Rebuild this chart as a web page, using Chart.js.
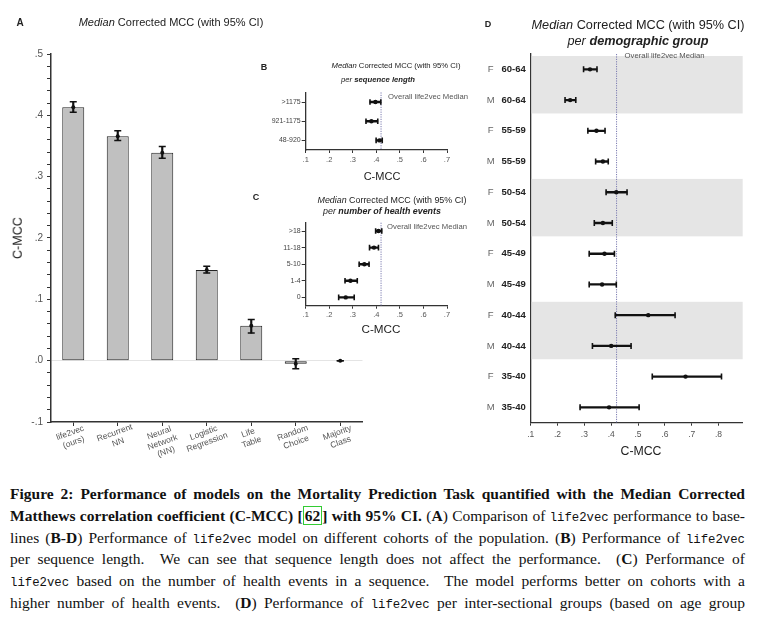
<!DOCTYPE html>
<html><head><meta charset="utf-8">
<script src="https://cdn.jsdelivr.net/npm/chart.js@4.4.0/dist/chart.umd.min.js"></script>
<style>
html,body{margin:0;padding:0;background:#fff;}
body{width:760px;height:644px;position:relative;overflow:hidden;font-family:"Liberation Sans",Arial,sans-serif;}
canvas.c{position:absolute;}
.t{position:absolute;white-space:nowrap;color:#222;transform:translate(-50%,-50%);line-height:1;}
.cap{position:absolute;left:10px;width:735px;font-family:"Liberation Serif","Times New Roman",serif;font-size:15.5px;color:#111;white-space:nowrap;text-align:justify;text-align-last:justify;line-height:21.8px;}
.mono{font-family:"Liberation Mono",monospace;font-size:12.3px;}
.cite{border:1.5px solid #33cc33;padding:0 1px;}
</style></head><body>

<canvas id="cA" class="c" width="380" height="470" style="left:0;top:0;width:380px;height:470px"></canvas>
<canvas id="cB" class="c" width="215" height="98" style="left:255px;top:85px;width:215px;height:98px"></canvas>
<canvas id="cC" class="c" width="215" height="121" style="left:255px;top:215px;width:215px;height:121px"></canvas>
<canvas id="cD" class="c" width="285" height="459" style="left:475px;top:0;width:285px;height:459px"></canvas>

<div class="t" style="left:20px;top:23px;font-size:10px;font-weight:bold">A</div>
<div class="t" style="left:171px;top:22px;font-size:11px"><i>Median</i> Corrected MCC (with 95% CI)</div>
<div class="t" style="left:18px;top:238px;font-size:12.6px;transform:translate(-50%,-50%) rotate(-90deg)">C-MCC</div>

<div class="t" style="left:264px;top:67px;font-size:9px;font-weight:bold">B</div>
<div class="t" style="left:396px;top:66px;font-size:7.7px"><i>Median</i> Corrected MCC (with 95% CI)</div>
<div class="t" style="left:378px;top:80px;font-size:7.7px"><i>per</i> <b><i>sequence length</i></b></div>
<div class="t" style="left:382px;top:176px;font-size:11px">C-MCC</div>

<div class="t" style="left:256px;top:197px;font-size:9px;font-weight:bold">C</div>
<div class="t" style="left:392px;top:200px;font-size:8.9px"><i>Median</i> Corrected MCC (with 95% CI)</div>
<div class="t" style="left:382px;top:211px;font-size:8.9px"><i>per</i> <b><i>number of health events</i></b></div>
<div class="t" style="left:381px;top:329px;font-size:11.7px">C-MCC</div>

<div class="t" style="left:488px;top:24px;font-size:9px;font-weight:bold">D</div>
<div class="t" style="left:638px;top:25px;font-size:12.7px"><i>Median</i> Corrected MCC (with 95% CI)</div>
<div class="t" style="left:638px;top:41px;font-size:12.7px"><i>per</i> <b><i>demographic group</i></b></div>
<div class="t" style="left:641px;top:451px;font-size:12.3px">C-MCC</div>

<div class="cap" style="top:483px"><b>Figure 2: Performance of models on the Mortality Prediction Task quantified with the Median Corrected</b></div>
<div class="cap" style="top:505px"><b>Matthews correlation coefficient (C-MCC) [<span class="cite">62</span>] with 95% CI.</b> (<b>A</b>) Comparison of <span class="mono">life2vec</span> performance to base-</div>
<div class="cap" style="top:527px">lines (<b>B-D</b>) Performance of <span class="mono">life2vec</span> model on different cohorts of the population. (<b>B</b>) Performance of <span class="mono">life2vec</span></div>
<div class="cap" style="top:548px">per sequence length. &nbsp;We can see that sequence length does not affect the performance. &nbsp;(<b>C</b>) Performance of</div>
<div class="cap" style="top:570px"><span class="mono">life2vec</span> based on the number of health events in a sequence. &nbsp;The model performs better on cohorts with a</div>
<div class="cap" style="top:592px">higher number of health events. &nbsp;(<b>D</b>) Performance of <span class="mono">life2vec</span> per inter-sectional groups (based on age group</div>

<script>
// ---------------- DATA ----------------
const modelNames = [["life2vec","(ours)"],["Recurrent","NN"],["Neural","Network","(NN)"],["Logistic","Regression"],["Life","Table"],["Random","Choice"],["Majority","Class"]];
const modelMedian = [0.413, 0.366, 0.339, 0.148, 0.057, -0.005, 0.0];
const modelLow    = [0.405, 0.359, 0.330, 0.143, 0.045, -0.013, 0.0];
const modelHigh   = [0.422, 0.375, 0.349, 0.154, 0.067, 0.003, 0.0];

const seqLenLabels = [">1175","921-1175","48-920"];
const seqLenMedian = [0.396, 0.379, 0.413];
const seqLenLow    = [0.373, 0.356, 0.399];
const seqLenHigh   = [0.419, 0.406, 0.425];

const eventLabels = [">18","11-18","5-10","1-4","0"];
const eventMedian = [0.409, 0.390, 0.349, 0.290, 0.270];
const eventLow    = [0.397, 0.371, 0.327, 0.267, 0.240];
const eventHigh   = [0.423, 0.409, 0.369, 0.319, 0.306];

const demoSex = ["F","M","F","M","F","M","F","M","F","M","F","M"];
const demoAge = ["60-64","60-64","55-59","55-59","50-54","50-54","45-49","45-49","40-44","40-44","35-40","35-40"];
const demoMedian = [0.321, 0.247, 0.345, 0.369, 0.419, 0.369, 0.375, 0.366, 0.538, 0.400, 0.677, 0.392];
const demoLow    = [0.297, 0.228, 0.313, 0.342, 0.381, 0.337, 0.318, 0.318, 0.415, 0.330, 0.553, 0.284];
const demoHigh   = [0.347, 0.268, 0.377, 0.389, 0.459, 0.404, 0.412, 0.419, 0.638, 0.474, 0.811, 0.504];
const demoShaded = [0, 4, 8]; // first row index of each shaded age pair

const overallMedian = 0.42;
const overallLabel = "Overall life2vec Median";

const ticksA = [-0.1,-0.08,-0.06,-0.04,-0.02,0,0.02,0.04,0.06,0.08,0.1,0.12,0.14,0.16,0.18,0.2,0.22,0.24,0.26,0.28,0.3,0.32,0.34,0.36,0.38,0.4,0.42,0.44,0.46,0.48,0.5];
const ticksBC = [0.1,0.2,0.3,0.4,0.5,0.6,0.7];
const ticksD = [0.1,0.2,0.3,0.4,0.5,0.6,0.7,0.8];

// ---------------- HELPERS ----------------
Chart.defaults.font.family = '"Liberation Sans", Arial, sans-serif';
Chart.defaults.animation = false;
const INK = '#111';
const AXIS = '#333';
function fmt(v){
  const s = (Math.round(v*10)/10).toFixed(1);
  return s.replace(/^0/,'').replace(/^-0/,'-');
}
function isMajor(v){ return Math.abs(v*10 - Math.round(v*10)) < 1e-6; }

// ---------------- PANEL A ----------------
const aLabelsPlugin = {
  id:'aLabels',
  afterDraw(chart){
    const ctx = chart.ctx, xs = chart.scales.x;
    ctx.save();
    ctx.font = '8.5px "Liberation Sans", Arial, sans-serif';
    ctx.fillStyle = '#555';
    ctx.textAlign = 'center';
    ctx.textBaseline = 'middle';
    modelNames.forEach((lines,i)=>{
      const x = xs.getPixelForTick(i);
      ctx.save();
      ctx.translate(x-3, 433);
      ctx.rotate(-20*Math.PI/180);
      lines.forEach((ln,j)=> ctx.fillText(ln, 0, j*10));
      ctx.restore();
    });
    ctx.restore();
  }
};

new Chart(document.getElementById('cA'), {
  type:'bar',
  data:{
    labels: modelNames.map(l=>l.join(' ')),
    datasets:[
      {type:'line', data:modelMedian, showLine:false, pointStyle:'circle', pointRadius:2, pointBackgroundColor:INK, pointBorderWidth:0, order:1},
      {type:'line', data:modelLow, showLine:false, pointStyle:'line', pointRadius:3.5, pointBorderColor:INK, pointBorderWidth:1.5, order:2},
      {type:'line', data:modelHigh, showLine:false, pointStyle:'line', pointRadius:3.5, pointBorderColor:INK, pointBorderWidth:1.5, order:2},
      {type:'bar', data:modelLow.map((v,i)=>[v,modelHigh[i]]), backgroundColor:INK, barThickness:1.5, borderWidth:0, grouped:false, order:3},
      {type:'bar', data:modelMedian, backgroundColor:'#c0c0c0', borderColor:'#222', borderWidth:1, borderSkipped:false, barPercentage:0.494, categoryPercentage:1, grouped:false, order:4}
    ]
  },
  options:{
    responsive:false, animation:false,
    layout:{padding:{left:0,top:54,right:17.5,bottom:0}},
    plugins:{legend:{display:false}, tooltip:{enabled:false}},
    scales:{
      x:{type:'category', offset:true,
         grid:{drawOnChartArea:false, drawTicks:true, tickLength:4, offset:false, color:AXIS},
         border:{color:AXIS, width:1.5},
         ticks:{display:false},
         afterFit(s){ s.height = 48; }},
      y:{type:'linear', min:-0.1, max:0.5,
         afterBuildTicks(s){ s.ticks = ticksA.map(v=>({value:v})); },
         grid:{drawOnChartArea:true, drawTicks:true, tickLength:4,
               color:(c)=> (c.tick && Math.abs(c.tick.value)<1e-9) ? '#e4e4e4' : 'rgba(0,0,0,0)',
               tickColor:AXIS},
         border:{color:AXIS, width:1.5},
         ticks:{autoSkip:false, padding:4, color:'#555', font:{size:10}, callback:(v)=> isMajor(v) ? fmt(v) : ''},
         afterFit(s){ s.width = 51; }}
    }
  },
  plugins:[aLabelsPlugin]
});

// ---------------- CI CHARTS (B, C, D) ----------------
function ciChart(id, labels, lo, med, hi, o){
  const refPlugin = {
    id:'ref'+id,
    beforeDatasetsDraw(chart){
      const ctx = chart.ctx, xs = chart.scales.x, ys = chart.scales.y, ca = chart.chartArea;
      ctx.save();
      if (o.bands){
        const step = ys.getPixelForValue(1) - ys.getPixelForValue(0);
        ctx.fillStyle = '#e5e5e5';
        o.bands.forEach(i=>{
          const t = ys.getPixelForValue(i) - step/2 + 2;
          const b = ys.getPixelForValue(i+1) + step/2 - 2;
          ctx.fillRect(ca.left+1, t, ca.right-ca.left-1, b-t);
        });
      }
      const mx = xs.getPixelForValue(overallMedian);
      ctx.strokeStyle = '#7a7ab0';
      ctx.lineWidth = 1;
      ctx.setLineDash([1.2,1.2]);
      ctx.beginPath(); ctx.moveTo(mx, ca.top); ctx.lineTo(mx, ca.bottom); ctx.stroke();
      ctx.setLineDash([]);
      ctx.restore();
    },
    afterDraw(chart){
      const ctx = chart.ctx, xs = chart.scales.x, ys = chart.scales.y, ca = chart.chartArea;
      ctx.save();
      const mx = xs.getPixelForValue(overallMedian);
      ctx.font = '7.7px "Liberation Sans", Arial, sans-serif';
      ctx.fillStyle = '#555';
      ctx.textAlign = 'left'; ctx.textBaseline = 'middle';
      ctx.fillText(overallLabel, mx + o.labelDx, ca.top + o.labelDy);
      if (o.sex){
        labels.forEach((lab,i)=>{
          const y = ys.getPixelForTick(i);
          ctx.textAlign = 'right';
          ctx.font = 'bold 9.5px "Liberation Sans", Arial, sans-serif';
          ctx.fillStyle = '#222';
          ctx.fillText(lab, ca.left - 5, y);
          ctx.textAlign = 'center';
          ctx.font = '9.5px "Liberation Sans", Arial, sans-serif';
          ctx.fillStyle = '#666';
          ctx.fillText(o.sex[i], ca.left - 40, y);
        });
      }
      ctx.restore();
    }
  };
  return new Chart(document.getElementById(id), {
    type:'bar',
    data:{
      labels: labels,
      datasets:[
        {type:'line', indexAxis:'y', data:med, showLine:false, pointStyle:'circle', pointRadius:2.2, pointBackgroundColor:INK, pointBorderWidth:0, order:1},
        {type:'line', indexAxis:'y', data:lo, showLine:false, pointStyle:'line', pointRotation:90, pointRadius:o.cap, pointBorderColor:INK, pointBorderWidth:1.6, order:2},
        {type:'line', indexAxis:'y', data:hi, showLine:false, pointStyle:'line', pointRotation:90, pointRadius:o.cap, pointBorderColor:INK, pointBorderWidth:1.6, order:2},
        {type:'bar', indexAxis:'y', data:lo.map((v,i)=>[v,hi[i]]), backgroundColor:INK, barThickness:1.7, borderWidth:0, order:3}
      ]
    },
    options:{
      indexAxis:'y', responsive:false, animation:false,
      layout:{padding:{left:0, top:o.top, right:o.right, bottom:0}},
      plugins:{legend:{display:false}, tooltip:{enabled:false}},
      scales:{
        x:{type:'linear', min:0.1, max:o.xmax,
           afterBuildTicks(s){ s.ticks = o.xticks.map(v=>({value:v})); },
           grid:{drawOnChartArea:false, drawTicks:true, tickLength:3, color:AXIS},
           border:{color:AXIS, width:1.3},
           ticks:{autoSkip:false, maxRotation:0, padding:o.xpad, color:'#555', font:{size:o.xfont}, callback:(v)=>fmt(v)},
           afterFit(s){ s.height = o.xh; }},
        y:{type:'category', offset:true,
           grid:{display:!o.sex, drawOnChartArea:false, drawTicks:true, tickLength:4, offset:false, color:AXIS},
           border:{display:true, color:AXIS, width:1.3},
           ticks:{display:!o.sex, padding:1, color:'#444', font:{size:7}},
           afterFit(s){ s.width = o.yw; }}
      }
    },
    plugins:[refPlugin]
  });
}

ciChart('cB', seqLenLabels, seqLenLow, seqLenMedian, seqLenHigh,
  {top:7.4, right:23, xmax:0.7, xticks:ticksBC, xh:33, yw:50.7, xfont:7.5, xpad:2, cap:2.8, labelDx:7, labelDy:4.5});
ciChart('cC', eventLabels, eventLow, eventMedian, eventHigh,
  {top:7.7, right:23, xmax:0.7, xticks:ticksBC, xh:30.3, yw:50.7, xfont:7.5, xpad:2, cap:2.8, labelDx:6, labelDy:4.3});
ciChart('cD', demoAge, demoLow, demoMedian, demoHigh,
  {top:54, right:17.3, xmax:0.89, xticks:ticksD, xh:36.3, yw:55.7, xfont:8.5, xpad:4, cap:3, labelDx:8, labelDy:1.5, sex:demoSex, bands:demoShaded});
</script>
</body></html>
